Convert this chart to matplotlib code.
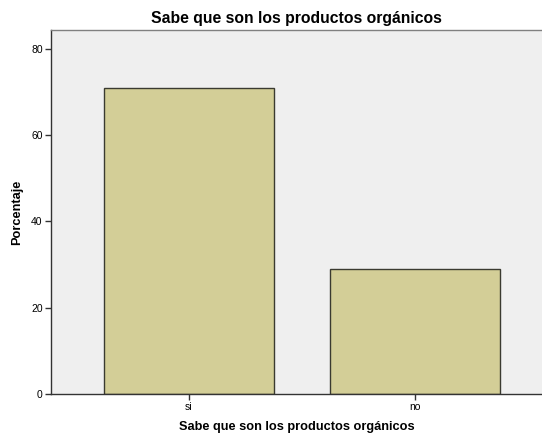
import matplotlib.pyplot as plt

plt.rcParams['font.family'] = ['Liberation Sans', 'DejaVu Sans']

categories = ["si", "no"]
percentages = [71.0, 29.0]
y_ticks = [0, 20, 40, 60, 80]

fig = plt.figure(figsize=(5.42, 4.34), dpi=100)
ax = fig.add_axes([51 / 542, 1 - 394 / 434, 491 / 542, 364 / 434])
ax.set_facecolor("#efefef")

x = list(range(len(categories)))
ax.bar(x, percentages, width=0.75, color="#d3ce97", edgecolor="#3a3a30", linewidth=1.0, zorder=2)

ax.set_xlim(-0.61, 1.56)
ax.set_ylim(0, 84.4)
ax.set_xticks(x)
ax.set_xticklabels(categories, fontsize=7.5)
ax.set_yticks(y_ticks)
ax.set_yticklabels([str(v) for v in y_ticks], fontsize=7.5)
ax.tick_params(axis='both', length=4, width=1, color="#333333", pad=2)

ax.spines["right"].set_visible(False)
ax.spines["top"].set_color("#808080")
ax.spines["left"].set_color("#333333")
ax.spines["bottom"].set_color("#333333")
for s in ax.spines.values():
    s.set_linewidth(1.0)

ax.set_title("Sabe que son los productos orgánicos", fontsize=11.3, fontweight="bold", pad=5)
ax.set_xlabel("Sabe que son los productos orgánicos", fontsize=9.2, fontweight="bold", labelpad=6)
ax.set_ylabel("Porcentaje", fontsize=9.2, fontweight="bold", labelpad=6)

fig.savefig("out.png", dpi=100)
